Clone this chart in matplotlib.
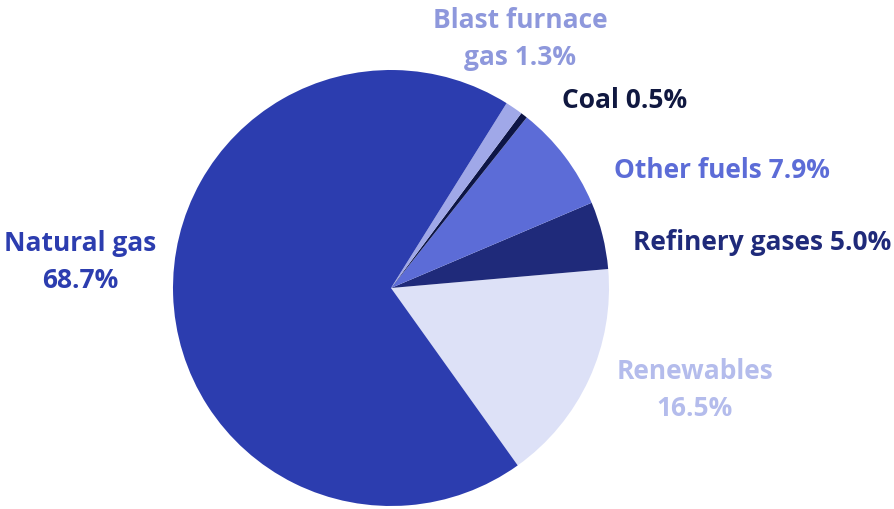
import matplotlib.pyplot as plt

# shares of fuel input, counter-clockwise from the renewables slice
fuels = ["Renewables", "Refinery gases", "Other fuels", "Coal", "Blast furnace gas", "Natural gas"]
shares = [16.5, 5.0, 7.9, 0.5, 1.3, 68.7]
colors = ["#dde1f7", "#1f2a7a", "#5c6cd7", "#0d1545", "#a0a8e8", "#2c3daf"]

label_texts = ["Renewables\n16.5%", "Refinery gases 5.0%", "Other fuels 7.9%",
               "Coal 0.5%", "Blast furnace\ngas 1.3%", "Natural gas\n68.7%"]
label_colors = ["#b4bcec", "#1f2a7a", "#5c6cd7", "#101840", "#8e98dc", "#2c3daf"]
# label anchor points in pixels (x, y from top)
label_pos = [(695, 390), (762, 243), (722, 170), (625, 100), (520, 39), (80, 262)]

W, H = 895, 510
fig = plt.figure(figsize=(W / 100, H / 100), dpi=100)
ax = fig.add_axes([0, 0, 1, 1])

# renewables slice ends ~5 degrees above horizontal
total = sum(shares)
start = 5.0 - shares[0] / total * 360

ax.pie(shares, colors=colors, startangle=start, counterclock=True,
       center=(391, H - 289), radius=218, frame=True,
       wedgeprops=dict(linewidth=0))
ax.set_xlim(0, W)
ax.set_ylim(0, H)
ax.set_aspect("equal")
ax.axis("off")

for txt, col, (x, y) in zip(label_texts, label_colors, label_pos):
    ax.text(x, H - y, txt, color=col, ha="center", va="center",
            fontsize=19, fontweight="bold", family="Open Sans",
            linespacing=1.45)

fig.savefig("out.png", dpi=100)
